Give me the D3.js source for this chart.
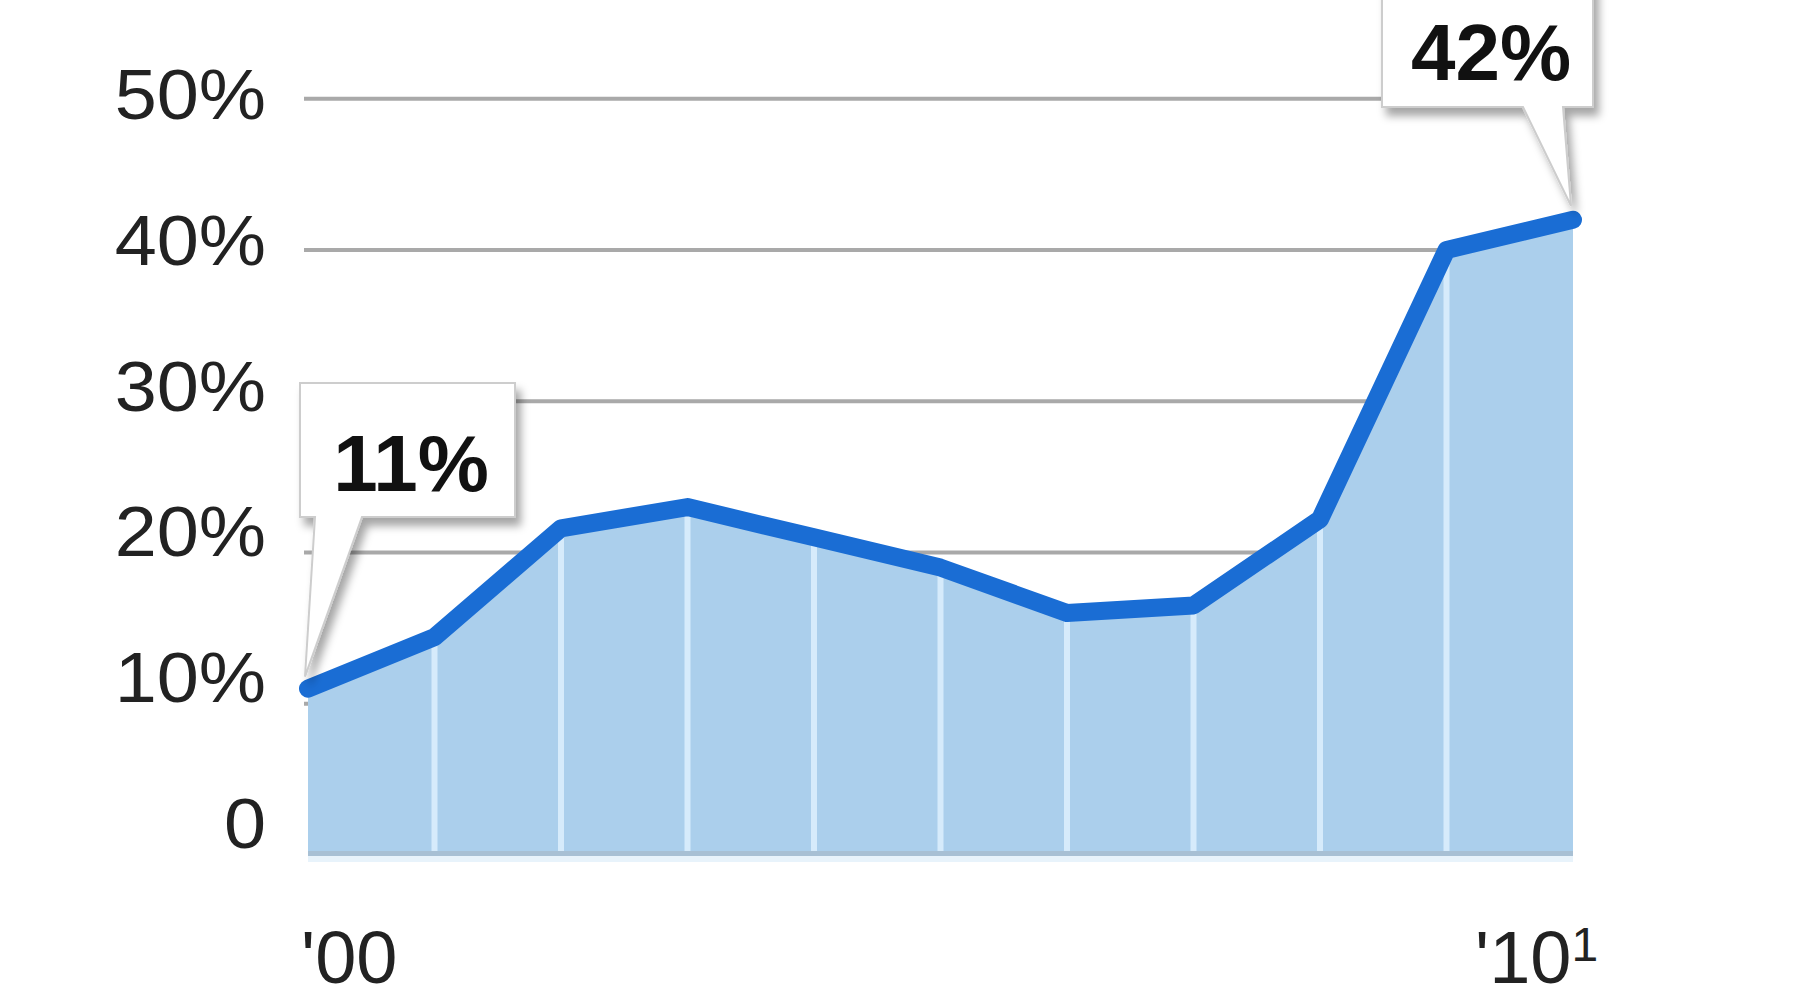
<!DOCTYPE html>
<html><head><meta charset="utf-8">
<script src="https://cdn.jsdelivr.net/npm/d3@7"></script>
<style>html,body{margin:0;padding:0;background:#fff;} svg{display:block;}</style>
</head><body>
<script>
// ---- data ----
const years = ["'00","'01","'02","'03","'04","'05","'06","'07","'08","'09","'10"];
const shares = [11, 14.4, 21.6, 23, 21, 19, 16, 16.5, 22.2, 40, 42];
const yTicks = [0, 10, 20, 30, 40, 50];
const yTickLabels = ["0", "10%", "20%", "30%", "40%", "50%"];
const gridTicks = [10, 20, 30, 40, 50];
const xLabelIdx = [0, 10];
const xFootnote = ["", "1"];
const calloutIdx = [0, 10];

// ---- layout ----
const W = 1800, H = 1000;
const svg = d3.select("body").append("svg").attr("width", W).attr("height", H)
  .style("font-family", "'Liberation Sans', Arial, Helvetica, sans-serif");
svg.append("rect").attr("width", W).attr("height", H).attr("fill", "#fff");

const defs = svg.append("defs");
const f = defs.append("filter").attr("id", "sh").attr("x", "-20%").attr("y", "-20%").attr("width", "150%").attr("height", "150%");
f.append("feDropShadow").attr("dx", 5).attr("dy", 8).attr("stdDeviation", 4)
  .attr("flood-color", "#000").attr("flood-opacity", 0.35);

const x = d3.scaleLinear().domain([0, years.length - 1]).range([308, 1573]);
const y = d3.scaleLinear().domain([0, 50]).range([855, 98.7]);
const yLab = d3.scaleLinear().domain([0, 50]).range([848, 119]);

// gridlines
svg.append("g").selectAll("line").data(gridTicks).join("line")
  .attr("x1", 304).attr("x2", x(years.length - 1))
  .attr("y1", d => y(d)).attr("y2", d => y(d))
  .attr("stroke", "#a9a9a9").attr("stroke-width", 4);

// area
const pts = shares.map((v, i) => [i, v]);
const area = d3.area().x(d => x(d[0])).y0(y(0)).y1(d => y(d[1])).curve(d3.curveLinear);
svg.append("path").datum(pts).attr("d", area).attr("fill", "#abcfec");

// separators
svg.append("g").selectAll("line").data(pts.slice(1, -1)).join("line")
  .attr("x1", d => x(d[0])).attr("x2", d => x(d[0]))
  .attr("y1", y(0)).attr("y2", d => y(d[1]))
  .attr("stroke", "#d6ebfb").attr("stroke-width", 6);

// baseline strip
svg.append("rect").attr("x", x(0)).attr("width", x(years.length - 1) - x(0))
  .attr("y", y(0) - 4).attr("height", 5).attr("fill", "#a8c0d4");
svg.append("rect").attr("x", x(0)).attr("width", x(years.length - 1) - x(0))
  .attr("y", y(0) + 1).attr("height", 6).attr("fill", "#e8f3fb");

// line
const line = d3.line().x(d => x(d[0])).y(d => y(d[1])).curve(d3.curveLinear);
svg.append("path").datum(pts).attr("d", line).attr("fill", "none")
  .attr("stroke", "#1a6dd4").attr("stroke-width", 18)
  .attr("stroke-linejoin", "round").attr("stroke-linecap", "round");

// y labels
svg.append("g").selectAll("text").data(yTicks).join("text")
  .attr("transform", d => `translate(266,${yLab(d)}) scale(1.08,1)`)
  .attr("text-anchor", "end").attr("font-size", 70).attr("fill", "#222")
  .text((d, i) => yTickLabels[i]);

// x labels
const xl = svg.append("g").selectAll("text").data(xLabelIdx).join("text")
  .attr("x", (d, i) => i === 0 ? 301 : 1475).attr("y", 983)
  .attr("font-size", 74).attr("fill", "#222");
xl.append("tspan").text(d => years[d]);
xl.append("tspan").attr("dy", -22).attr("font-size", 48).text((d, i) => xFootnote[i]);

// callouts
const boxes = [
  {x0: 300, y0: 383, x1: 515, y1: 517, tl: 315, tr: 362, dx: -3, dy: -12, tx: 411, ty: 491},
  {x0: 1382, y0: -20, x1: 1593, y1: 107, tl: 1523, tr: 1563, dx: -2, dy: -14, tx: 1491, ty: 80}
];
const cg = svg.append("g").selectAll("g").data(calloutIdx).join("g");
cg.append("path")
  .attr("d", (d, i) => {
    const b = boxes[i];
    const px = x(d) + b.dx, py = y(shares[d]) + b.dy;
    return `M${b.x0},${b.y0}H${b.x1}V${b.y1}H${b.tr}L${px},${py}L${b.tl},${b.y1}H${b.x0}Z`;
  })
  .attr("fill", "#fff").attr("stroke", "#cdcdcd").attr("stroke-width", 2)
  .attr("filter", "url(#sh)");
cg.append("text")
  .attr("x", (d, i) => boxes[i].tx).attr("y", (d, i) => boxes[i].ty)
  .attr("text-anchor", "middle").attr("font-size", 80).attr("font-weight", "bold")
  .attr("fill", "#111")
  .text(d => d3.format("d")(shares[d]) + "%");
</script>
</body></html>
